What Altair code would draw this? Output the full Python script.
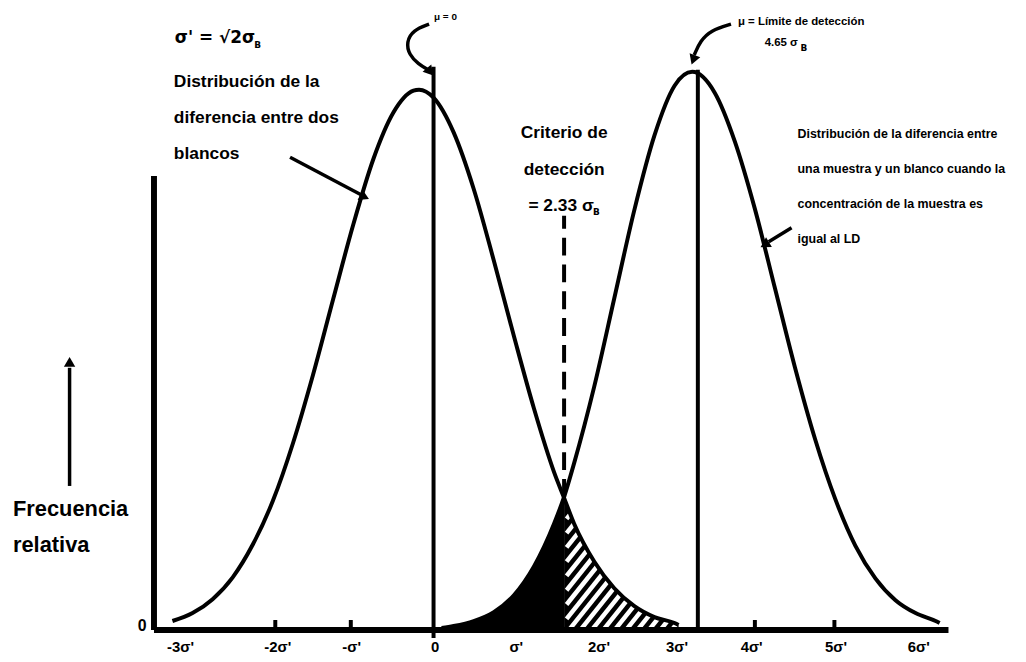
import altair as alt
import pandas as pd

# ---------------- data (x in σ' units, y = relative frequency in plot units) -------------
X_MIN, X_MAX = -3.48, 6.41
PLOT_W, PLOT_H = 800, 624

# Distribución de la diferencia entre dos blancos
left_x = [-3.25, -3.0, -2.75, -2.5, -2.25, -2.0, -1.75, -1.5, -1.25, -1.0, -0.75, -0.5,
          -0.25, -0.18, 0.0, 0.25, 0.5, 0.75, 1.0, 1.25, 1.5, 1.625, 1.75, 2.0, 2.25,
          2.5, 2.75, 3.0, 3.05]
left_y = [9, 17, 31, 53, 86, 130, 188, 257, 333, 408, 474, 521,
          543, 544, 536, 501, 444, 372, 296, 223, 159, 133, 107, 69, 42,
          24, 13, 7, 5]

# Distribución de la diferencia entre una muestra y un blanco (concentración = LD)
right_x = [0.1, 0.25, 0.5, 0.75, 1.0, 1.25, 1.5, 1.625, 1.75, 2.0, 2.25, 2.5, 2.75,
           3.0, 3.22, 3.5, 3.75, 4.0, 4.25, 4.5, 4.75, 5.0, 5.25, 5.5, 5.75, 6.0,
           6.25, 6.3]
right_y = [2, 4, 9, 18, 35, 64, 107, 134, 168, 245, 334, 423, 498,
           548, 562, 541, 492, 424, 344, 264, 192, 132, 85, 52, 30, 17,
           9, 7]

MU0 = 0.0
CRITERION = 1.625
LD = 3.29

tick_label_pos = [-3.15, -1.94, -1.02, 0.02, 1.03, 2.06, 3.03, 3.96, 5.01, 6.04]
tick_labels = ["-3σ'", "-2σ'", "-σ'", "0", "σ'", "2σ'", "3σ'", "4σ'", "5σ'", "6σ'"]
minor_ticks = [-1.97, -1.03, 4.0, 4.99]

FONT_N = "'Liberation Sans Narrow', 'Arial Narrow', 'Liberation Sans', Arial, sans-serif"
FONT_B = "'Liberation Sans', Arial, sans-serif"


# page-pixel helpers for annotation placement
def X(px):
    return X_MIN + (px - 155) * (X_MAX - X_MIN) / PLOT_W


def Y(py):
    return 632 - py


xs = alt.Scale(domain=[X_MIN, X_MAX], nice=False, zero=False)
ys = alt.Scale(domain=[0, PLOT_H], nice=False, zero=False)


def xy(chart):
    return chart.encode(x=alt.X("x:Q", scale=xs, axis=None),
                        y=alt.Y("y:Q", scale=ys, axis=None))


def seg(chart):
    return chart.encode(x=alt.X("x:Q", scale=xs, axis=None),
                        y=alt.Y("y:Q", scale=ys, axis=None),
                        x2=alt.X2("x2:Q"), y2=alt.Y2("y2:Q"))


left_df = pd.DataFrame({"x": left_x, "y": left_y})
right_df = pd.DataFrame({"x": right_x, "y": right_y})

dark_df = right_df[(right_df.x >= 0.1) & (right_df.x <= CRITERION)]
hatch_df = left_df[left_df.x >= CRITERION]

# hatch stripes (white) over the black tail area beyond the criterion
crit_px = 155 + (CRITERION - X_MIN) * PLOT_W / (X_MAX - X_MIN)
HATCH_SP, HATCH_SLOPE, HATCH_TOP = 11.5, 1.25, 165
rows = []
x0 = crit_px - 110
while x0 < crit_px + 150:
    sx = max(x0, crit_px + 2.5)
    sy = (sx - x0) * HATCH_SLOPE
    ex = x0 + HATCH_TOP / HATCH_SLOPE
    rows.append({"x": X(sx), "y": sy, "x2": X(ex), "y2": HATCH_TOP})
    x0 += HATCH_SP
stripes_df = pd.DataFrame(rows)

layers = []
layers.append(xy(alt.Chart(dark_df).mark_area(color="black", interpolate="monotone")))
layers.append(xy(alt.Chart(hatch_df).mark_area(color="black", interpolate="monotone")))
layers.append(seg(alt.Chart(stripes_df).mark_rule(color="white", strokeWidth=4.5)))

layers.append(xy(alt.Chart(left_df).mark_line(color="black", strokeWidth=4, interpolate="monotone")))
layers.append(xy(alt.Chart(right_df).mark_line(color="black", strokeWidth=4, interpolate="monotone")))

# vertical reference lines
vlines = pd.DataFrame({"x": [MU0, LD], "y": [-8, 0], "x2": [MU0, LD], "y2": [Y(65), Y(68)]})
layers.append(seg(alt.Chart(vlines).mark_rule(color="black", strokeWidth=4)))
crit_df = pd.DataFrame({"x": [CRITERION], "y": [134], "x2": [CRITERION], "y2": [Y(215)]})
layers.append(seg(alt.Chart(crit_df).mark_rule(color="black", strokeWidth=4, strokeDash=[18, 9])))

# axes
axes_df = pd.DataFrame({"x": [X_MIN, X_MIN], "y": [0, 0], "x2": [X_MAX, X_MIN], "y2": [0, Y(175)]})
layers.append(seg(alt.Chart(axes_df).mark_rule(color="black", strokeWidth=6)))
mt_df = pd.DataFrame({"x": minor_ticks, "y": [0] * 4, "x2": minor_ticks, "y2": [10] * 4})
layers.append(seg(alt.Chart(mt_df).mark_rule(color="black", strokeWidth=4)))

# tick labels
tl_df = pd.DataFrame({"x": tick_label_pos, "y": [Y(649)] * len(tick_labels), "t": tick_labels})
layers.append(xy(alt.Chart(tl_df).mark_text(font=FONT_N, fontSize=15, fontWeight="bold",
                                             align="center", baseline="middle", color="black"))
              .encode(text="t:N"))


def text_layer(items, size, weight="normal", align="left", font=FONT_N):
    df = pd.DataFrame([{"x": X(a), "y": Y(b), "t": t} for a, b, t in items])
    return xy(alt.Chart(df).mark_text(font=font, fontSize=size, fontWeight=weight,
                                      align=align, baseline="middle", color="black")).encode(text="t:N")


layers.append(text_layer([(143, 628, "0")], 16, "bold", "center"))
layers.append(text_layer([(13, 510, "Frecuencia"), (13, 547, "relativa")], 22, "bold"))
layers.append(text_layer([(176, 36, "σ' = √2σ")], 17, "bold", font="'DejaVu Sans', sans-serif"))
layers.append(text_layer([(256, 43, "B"), (597, 211, "B"), (806, 46, "B")], 9, "bold",
                         font="'DejaVu Sans', sans-serif"))
layers.append(text_layer([(175, 80, "Distribución de la"),
                          (175, 117, "diferencia entre dos"),
                          (175, 153, "blancos")], 17.5, "bold"))
layers.append(text_layer([(568, 132, "Criterio de"), (568, 169, "detección")], 17.5, "bold",
                         align="center"))
layers.append(text_layer([(532, 205, "= 2.33 σ")], 17.5, "bold"))
layers.append(text_layer([(437, 15, "μ = 0")], 10, "bold", font=FONT_B))
layers.append(text_layer([(743, 20, "μ = Límite de detección"), (770, 41, "4.65 σ")], 11.5, "bold",
                         font=FONT_B))
layers.append(text_layer([(803, 133, "Distribución de la diferencia entre"),
                          (803, 168, "una muestra y un blanco cuando la"),
                          (803, 203, "concentración de la muestra es"),
                          (803, 238, "igual al LD")], 12.5, "bold"))

# arrows
arrow_pts = [
    ("a1", [(292, 156), (364, 194)], "linear"),
    ("a2", [(797, 227), (774, 241)], "linear"),
    ("a3", [(432, 22), (416, 28), (409, 40), (412, 53), (421, 62), (431, 68)], "basis"),
    ("a4", [(736, 22), (716, 28), (705, 39), (699, 53)], "basis"),
    ("a5", [(70, 487), (70, 368)], "linear"),
]
for name, pts, interp in arrow_pts:
    df = pd.DataFrame({"x": [X(a) for a, b in pts], "y": [Y(b) for a, b in pts],
                       "o": list(range(len(pts)))})
    layers.append(xy(alt.Chart(df).mark_line(color="black", strokeWidth=3.5, interpolate=interp))
                  .encode(order="o:Q"))

heads = pd.DataFrame({"x": [X(367), X(770), X(433), X(698), X(70)],
                      "y": [Y(196), Y(244), Y(70), Y(58), Y(362)],
                      "ang": [116, 239, 140, 200, 0]})
layers.append(xy(alt.Chart(heads).mark_point(shape="triangle-up", filled=True, size=130,
                                             color="black", opacity=1))
              .encode(angle=alt.Angle("ang:Q", scale=None)))

chart = alt.layer(*layers).properties(
    width=PLOT_W, height=PLOT_H,
    autosize=alt.AutoSizeParams(type="none"),
    padding={"left": 147, "top": 0, "right": 70, "bottom": 30},
    background="white",
).configure_view(stroke=None)

chart.save("out.html", embed_options={"renderer": "svg", "actions": False})
